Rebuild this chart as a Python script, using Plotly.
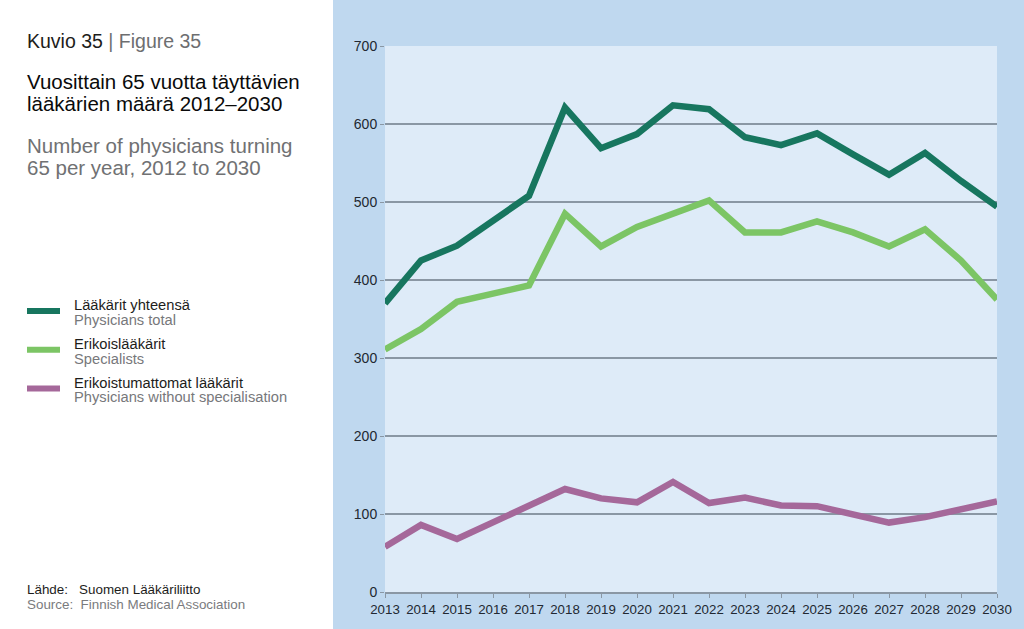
import plotly.graph_objects as go

years = list(range(2013, 2031))
total = [370, 425, 444, 475, 508, 621, 569, 587, 624, 619, 583, 573, 588, 561, 535, 563, 527, 494]
specialists = [311, 337, 372, 382, 393, 485, 443, 468, 486, 502, 461, 461, 475, 461, 443, 465, 425, 375]
non_spec = [58, 86, 68, 90, 111, 132, 120, 115, 141, 114, 121, 111, 110, 100, 89, 96, 105, 116]
y_ticks = [0, 100, 200, 300, 400, 500, 600, 700]

series_names = ["Lääkärit yhteensä", "Erikoislääkärit", "Erikoistumattomat lääkärit"]
series_names_en = ["Physicians total", "Specialists", "Physicians without specialisation"]
colors = ["#17765f", "#7cc565", "#a5689a"]

W, H = 1024, 629
L, R, T, B = 385, 997, 46, 596


def px(x):
    return (x - L) / (R - L)


def py(y):
    return (B - y) / (B - T)


fig = go.Figure()
for vals, name, c in zip([total, specialists, non_spec], series_names, colors):
    fig.add_trace(go.Scatter(x=years, y=vals, mode="lines", name=name,
                             line=dict(color=c, width=6.5), showlegend=False))

shapes = [
    dict(type="rect", xref="paper", yref="paper", x0=px(333), x1=px(1030), y0=py(640), y1=py(-10),
         fillcolor="#bfd8ef", line=dict(width=0), layer="below"),
    dict(type="rect", xref="paper", yref="paper", x0=0, x1=1, y0=0, y1=1,
         fillcolor="#deebf8", line=dict(width=0), layer="below"),
]
legend_y = [313, 352, 391]
for yy, c in zip(legend_y, colors):
    shapes.append(dict(type="line", xref="paper", yref="paper", x0=px(27), x1=px(60), y0=py(yy), y1=py(yy),
                       line=dict(color=c, width=6)))

font = "Liberation Sans, Arial, Helvetica, sans-serif"
ann = []


def text(x, y, s, size, color, anchor="left"):
    ann.append(dict(xref="paper", yref="paper", x=px(x), y=py(y), text=s, showarrow=False,
                    xanchor=anchor, yanchor="middle", font=dict(family=font, size=size, color=color)))


text(25, 41, "Kuvio 35 <span style='color:#6d6e70'>| Figure 35</span>", 19.5, "#1d1d1b")
text(25, 82, "Vuosittain 65 vuotta täyttävien", 20.5, "#0a0a0a")
text(25, 104, "lääkärien määrä 2012–2030", 20.5, "#0a0a0a")
text(25, 146, "Number of physicians turning", 20.5, "#707173")
text(25, 168, "65 per year, 2012 to 2030", 20.5, "#707173")
for yy, n, e in zip(legend_y, series_names, series_names_en):
    text(72, yy - 6, n, 14.7, "#1d1d1b")
    text(72, yy + 9, e, 14.7, "#77787b")
text(25, 593, "Lähde:&nbsp;&nbsp;&nbsp;Suomen Lääkäriliitto", 13.4, "#1d1d1b")
text(25, 609, "Source:&nbsp;&nbsp;Finnish Medical Association", 13.4, "#7a7b7e")

tickfont = dict(family="Liberation Sans, Arial, sans-serif", size=13.3, color="#222831")

fig.update_layout(
    width=W, height=H,
    margin=dict(l=L, r=W - R, t=T, b=H - B, pad=0),
    paper_bgcolor="white",
    plot_bgcolor="rgba(0,0,0,0)",
    shapes=shapes,
    annotations=ann,
    xaxis=dict(range=[2013, 2030], tickvals=years, ticktext=[str(y) for y in years],
               showgrid=False, zeroline=False, showline=True, linecolor="#8a97a4", linewidth=1.5,
               ticks="outside", ticklen=4, tickcolor="#8a97a4", tickfont=tickfont, fixedrange=True),
    yaxis=dict(range=[0, 700], tickvals=y_ticks, showgrid=True, gridcolor="#8a97a4", gridwidth=1.5,
               zeroline=False, showline=False, ticks="outside", ticklen=4, tickcolor="#8a97a4",
               tickfont=dict(family="Liberation Sans, Arial, sans-serif", size=14, color="#222831"),
               fixedrange=True),
)

fig.write_html("out.html", config={"displayModeBar": False},
               post_script="document.body.style.margin='0';document.body.style.overflow='hidden';")
